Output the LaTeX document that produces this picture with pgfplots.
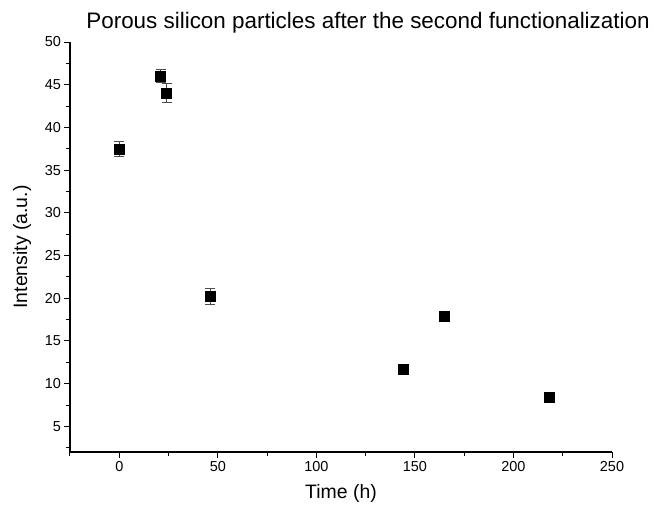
\documentclass[border=0pt]{standalone}
\usepackage{pgfplots}
\pgfplotsset{compat=1.18}
\usepackage{fontspec}
\setmainfont{Liberation Sans}

\begin{document}
\begin{tikzpicture}
\path[use as bounding box] (-70bp,-57bp) rectangle (584bp,452bp);
\begin{axis}[
  at={(0,0)}, anchor=south west,
  scale only axis,
  width=542bp, height=410bp,
  xmin=-25, xmax=250,
  ymin=2, ymax=50,
  axis x line*=bottom,
  axis y line*=left,
  axis line style={line width=1.2bp, black},
  xtick={0,50,...,250},
  minor xtick={-25,25,75,125,175,225},
  ytick={5,10,...,50},
  minor ytick={2.5,7.5,...,47.5},
  tick align=outside,
  major tick length=5.5bp,
  minor tick length=3.5bp,
  tick style={line width=1bp, black},
  /pgf/number format/assume math mode=true,
  ticklabel style={font=\fontsize{14.5}{17}\selectfont},
  xlabel={Time (h)},
  ylabel={Intensity (a.u.)},
  label style={font=\fontsize{19.5}{22}\selectfont},
  xlabel style={yshift=-6bp},
  ylabel style={yshift=7bp},
  title={Porous silicon particles after the second functionalization},
  title style={font=\fontsize{22.5}{26}\selectfont, xshift=27bp, yshift=-1bp},
  clip=false,
]
\addplot[
  only marks,
  mark=square*,
  mark size=5bp,
  mark options={black, fill=black},
  error bars/.cd,
    y dir=both, y explicit,
    error mark options={rotate=90, mark size=5bp, line width=0.8bp, black!70},
    error bar style={line width=0.8bp, black!70},
] table[x=t, y=I, y error=e] {
t     I      e
0     37.5   0.9
21    46.0   0.75
24    44.0   1.1
46    20.2   0.9
144   11.7   0.3
165   17.9   0.3
218   8.4    0.3
};
\end{axis}
\end{tikzpicture}
\end{document}
